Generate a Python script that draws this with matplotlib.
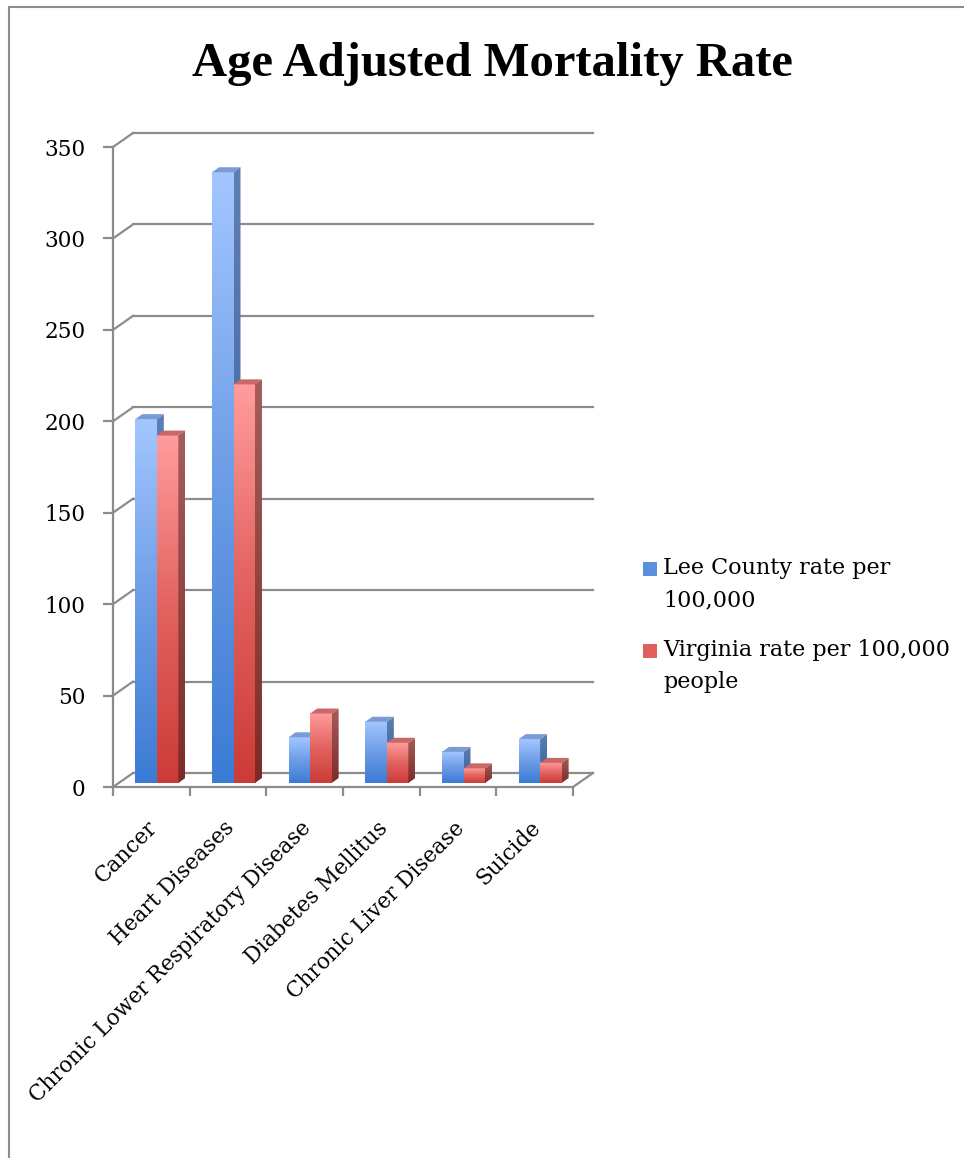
import numpy as np
import matplotlib
matplotlib.use("Agg")
import matplotlib.pyplot as plt
from matplotlib.patches import Polygon, Rectangle
from matplotlib.colors import LinearSegmentedColormap
from matplotlib.lines import Line2D
from matplotlib.transforms import offset_copy

categories = ["Cancer", "Heart Diseases", "Chronic Lower Respiratory Disease",
              "Diabetes Mellitus", "Chronic Liver Disease", "Suicide"]
lee_rate = [199, 334, 25, 33.5, 17, 24]
va_rate = [190, 218, 38, 22, 8, 11]
series_names = ["Lee County rate per\n100,000", "Virginia rate per 100,000\npeople"]
yticks = [0, 50, 100, 150, 200, 250, 300, 350]

W, H = 964, 1158
SERIF = ["DejaVu Serif"]
TITLE_FONT = ["Liberation Serif", "DejaVu Serif"]
GRID = "#8c8c8c"

fig = plt.figure(figsize=(W / 100, H / 100), dpi=100)
fig.patch.set_facecolor("white")

# front plane of the plot, in pixels
x0, x1, ybot, ytop = 113, 573, 787, 147
ax = fig.add_axes([x0 / W, (H - ybot) / H, (x1 - x0) / W, (ybot - ytop) / H])
ax.patch.set_alpha(0)

n = len(categories)
px_x = (x1 - x0) / n        # pixels per category
px_y = (ybot - ytop) / 350.0  # pixels per unit


def dxy(px, py):
    return px / px_x, py / px_y


wall_dx, wall_dy = dxy(20, 14)
shift_dx, shift_dy = dxy(5.5, 4)
bar_dx, bar_dy = dxy(7, 5)

# back wall gridlines + left wall diagonals
for v in yticks:
    ax.plot([wall_dx, n + wall_dx], [v + wall_dy, v + wall_dy],
            color=GRID, lw=1.6, clip_on=False, zorder=1)
    ax.plot([0, wall_dx], [v, v + wall_dy], color=GRID, lw=1.6, clip_on=False, zorder=1)
# floor right diagonal
ax.plot([n, n + wall_dx], [0, wall_dy], color=GRID, lw=1.6, clip_on=False, zorder=1)

blue_cm = LinearSegmentedColormap.from_list("b", ["#3b7bd4", "#6d9de6", "#a3c6ff"])
red_cm = LinearSegmentedColormap.from_list("r", ["#cc3b37", "#e2625f", "#ff9d9c"])
blue_side = LinearSegmentedColormap.from_list("bs", ["#2f5c9a", "#5f7fb2"])
red_side = LinearSegmentedColormap.from_list("rs", ["#7c2a28", "#a65d5c"])
grad = np.linspace(0, 1, 256).reshape(-1, 1)

bw = 0.28
styles = [(blue_cm, blue_side, "#7a9cd4"), (red_cm, red_side, "#c96866")]
for i in range(n):
    for k, vals in enumerate([lee_rate, va_rate]):
        v = vals[i]
        cm_front, cm_side, top_col = styles[k]
        left = i + 0.5 - bw + k * bw + shift_dx
        right = left + bw
        b, t = shift_dy, shift_dy + v
        z = 3 + i * 2 + k * 0.5
        ax.imshow(grad, extent=[left, right, b, t], origin="lower", cmap=cm_front,
                  aspect="auto", interpolation="bilinear", zorder=z, clip_on=False)
        side = Polygon([(right, b), (right, t), (right + bar_dx, t + bar_dy),
                        (right + bar_dx, b + bar_dy)], closed=True, fc="none",
                       ec="none", transform=ax.transData)
        ax.add_patch(side)
        im = ax.imshow(grad, extent=[right, right + bar_dx, b, t + bar_dy],
                       origin="lower", cmap=cm_side, aspect="auto",
                       interpolation="bilinear", zorder=z)
        im.set_clip_path(side)
        ax.add_patch(Polygon([(left, t), (right, t), (right + bar_dx, t + bar_dy),
                              (left + bar_dx, t + bar_dy)], closed=True, fc=top_col,
                             ec="none", zorder=z, clip_on=False))

ax.set_xlim(0, n)
ax.set_ylim(0, 350)

for s in ["top", "right"]:
    ax.spines[s].set_visible(False)
for s in ["left", "bottom"]:
    ax.spines[s].set_color(GRID)
    ax.spines[s].set_linewidth(1.6)
    ax.spines[s].set_zorder(2)

ax.set_yticks(yticks)
ax.set_yticklabels([str(v) for v in yticks], family=SERIF, fontsize=15.5)
ax.tick_params(axis="y", length=7, width=1.6, color=GRID, pad=13)
ax.set_xticks(range(n + 1))
ax.set_xticklabels([])
ax.tick_params(axis="x", length=6.5, width=1.6, color=GRID)

lab_tr = offset_copy(ax.transData, fig=fig, x=-5, y=-30, units="dots")
for i, c in enumerate(categories):
    ax.text(i + 0.5, 0, c, transform=lab_tr, rotation=45, rotation_mode="anchor",
            ha="right", va="top", family=SERIF, fontsize=15.5)

fig.text(492 / W, 1 - 76 / H, "Age Adjusted Mortality Rate", ha="center",
         va="baseline", family=TITLE_FONT, fontsize=35, weight="bold")

# legend
leg_cols = ["#5b8fe0", "#e0605d"]
for k, (name, yc) in enumerate(zip(series_names, [569, 651])):
    fig.patches.append(Rectangle((643 / W, 1 - (yc + 7) / H), 14 / W, 14 / H,
                                 transform=fig.transFigure, fc=leg_cols[k], ec="none"))
    fig.text(663 / W, 1 - (yc - 12) / H, name, ha="left", va="top", family=SERIF,
             fontsize=16, linespacing=1.6)

# outer chart border (left and top)
fig.lines.append(Line2D([9 / W, 9 / W], [0, 1 - 7 / H], transform=fig.transFigure,
                        color="#8c8c8c", lw=1.5))
fig.lines.append(Line2D([9 / W, 1], [1 - 7 / H, 1 - 7 / H], transform=fig.transFigure,
                        color="#8c8c8c", lw=1.5))

fig.savefig("out.png", dpi=100)
